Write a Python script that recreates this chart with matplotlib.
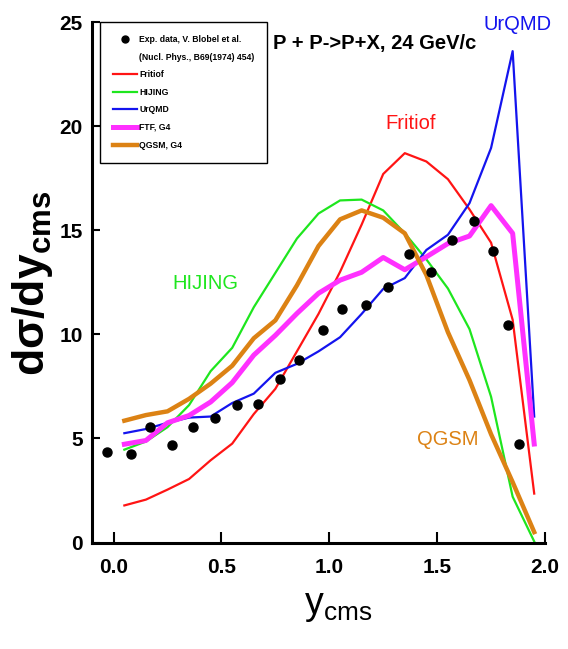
import matplotlib
matplotlib.use('Agg')
from matplotlib import pyplot as plt
from matplotlib.lines import Line2D

# rapidity bins of the model curves
y_model = [0.05, 0.15, 0.25, 0.35, 0.45, 0.55, 0.65, 0.75, 0.85, 0.95,
           1.05, 1.15, 1.25, 1.35, 1.45, 1.55, 1.65, 1.75, 1.85, 1.95]

fritiof = [1.78, 2.06, 2.54, 3.05, 3.95, 4.75, 6.17, 7.38, 9.18, 10.98,
           13.0, 15.27, 17.7, 18.7, 18.3, 17.45, 16.0, 14.4, 10.7, 2.35]
hijing = [4.46, 4.85, 5.54, 6.6, 8.23, 9.35, 11.3, 12.95, 14.6, 15.8,
          16.43, 16.47, 15.95, 14.85, 13.6, 12.2, 10.25, 7.0, 2.2, 0.05]
urqmd = [5.25, 5.45, 5.75, 6.0, 6.05, 6.7, 7.15, 8.15, 8.58, 9.18,
         9.86, 10.98, 12.18, 12.7, 14.05, 14.78, 16.3, 18.95, 23.6, 6.05]
ftf = [4.72, 4.9, 5.75, 6.1, 6.75, 7.68, 9.0, 9.95, 11.0, 11.97,
       12.6, 12.98, 13.69, 13.1, 13.72, 14.36, 14.72, 16.18, 14.85, 4.73]
qgsm = [5.85, 6.12, 6.3, 6.9, 7.63, 8.49, 9.81, 10.67, 12.35, 14.24,
        15.52, 15.95, 15.6, 14.85, 12.85, 10.1, 7.8, 5.2, 2.9, 0.5]

# Blobel et al. data points
y_exp = [-0.03, 0.08, 0.17, 0.27, 0.37, 0.47, 0.57, 0.67, 0.77, 0.86, 0.97,
         1.06, 1.17, 1.27, 1.37, 1.47, 1.57, 1.67, 1.76, 1.83, 1.88]
dsig_exp = [4.34, 4.25, 5.54, 4.67, 5.54, 6.0, 6.6, 6.64, 7.84, 8.75, 10.2,
            11.23, 11.39, 12.26, 13.84, 13.0, 14.53, 15.44, 13.98, 10.46, 4.75]

x_ticks = [0.0, 0.5, 1.0, 1.5, 2.0]
x_ticklabels = ['0.0', '0.5', '1.0', '1.5', '2.0']
y_ticks = [0, 5, 10, 15, 20, 25]

RED = '#ff1414'
GREEN = '#1ee61e'
BLUE = '#1414ee'
MAGENTA = '#ff30ff'
ORANGE = '#dc8214'

FONT = ['Liberation Sans', 'DejaVu Sans']
plt.rcParams['font.family'] = FONT
plt.rcParams['mathtext.fontset'] = 'custom'

W, H = 568, 649
fig = plt.figure(figsize=(W / 100, H / 100), dpi=100)
ax = fig.add_axes([92 / W, (H - 542.5) / H, 453 / W, 520.5 / H])

ax.plot(y_model, fritiof, color=RED, lw=1.6)
ax.plot(y_model, hijing, color=GREEN, lw=1.6)
ax.plot(y_model, urqmd, color=BLUE, lw=1.6)
ax.plot(y_model, ftf, color=MAGENTA, lw=3.6)
ax.plot(y_model, qgsm, color=ORANGE, lw=3.2)
ax.plot(y_exp, dsig_exp, 'o', color='black', ms=6.5, zorder=5)

ax.set_xlim(-0.1, 2.0)
ax.set_ylim(0, 25)
ax.set_xticks(x_ticks)
ax.set_xticklabels(x_ticklabels)
ax.set_yticks(y_ticks)
for s in ['top', 'right']:
    ax.spines[s].set_visible(False)
for s in ['left', 'bottom']:
    ax.spines[s].set_linewidth(2.2)
ax.tick_params(axis='x', direction='in', length=8, width=1.5, pad=11, labelsize=15)
ax.tick_params(axis='y', direction='in', length=6, width=1.5, pad=6.5, labelsize=15)
for lab in ax.get_xticklabels() + ax.get_yticklabels():
    lab.set_fontweight('bold')

# curve names and reaction
ax.text(1.875, 24.9, 'UrQMD', color=BLUE, fontsize=14.5, ha='center', va='center', clip_on=False)
ax.text(1.378, 20.14, 'Fritiof', color=RED, fontsize=14.5, ha='center', va='center')
ax.text(0.427, 12.45, 'HIJING', color=GREEN, fontsize=14.5, ha='center', va='center')
ax.text(1.55, 4.95, 'QGSM', color=ORANGE, fontsize=14.5, ha='center', va='center')
ax.text(1.21, 23.95, 'P + P->P+X, 24 GeV/c', fontsize=14.5, fontweight='bold',
        ha='center', va='center')

# axis titles
fig.text(33 / W, 1 - 283 / H, r'$\mathdefault{dσ/dy_{cms}}$', rotation=90,
         fontsize=32, fontweight='bold', ha='center', va='center')
fig.text(338 / W, 1 - 606 / H, r'$\mathdefault{y_{cms}}$', fontsize=27,
         ha='center', va='center')

handles = [
    Line2D([], [], ls='none', marker='o', color='black', ms=5),
    Line2D([], [], color='none'),
    Line2D([], [], color=RED, lw=1.6),
    Line2D([], [], color=GREEN, lw=1.6),
    Line2D([], [], color=BLUE, lw=1.6),
    Line2D([], [], color=MAGENTA, lw=3.6),
    Line2D([], [], color=ORANGE, lw=3.2),
]
labels = ['Exp. data, V. Blobel et al.', '(Nucl. Phys., B69(1974) 454)',
          'Fritiof', 'HIJING', 'UrQMD', 'FTF, G4', 'QGSM, G4']
leg = ax.legend(handles, labels, loc='upper left',
                bbox_to_anchor=(100 / W, 1 - 22 / H), bbox_transform=fig.transFigure,
                borderaxespad=0, fancybox=False, framealpha=1, edgecolor='black',
                prop={'family': FONT, 'weight': 'bold', 'size': 6.2},
                handlelength=2.8, handletextpad=0.25, borderpad=1.5, labelspacing=1.0)
leg.get_frame().set_linewidth(1.0)

fig.savefig('out.png', dpi=100)
